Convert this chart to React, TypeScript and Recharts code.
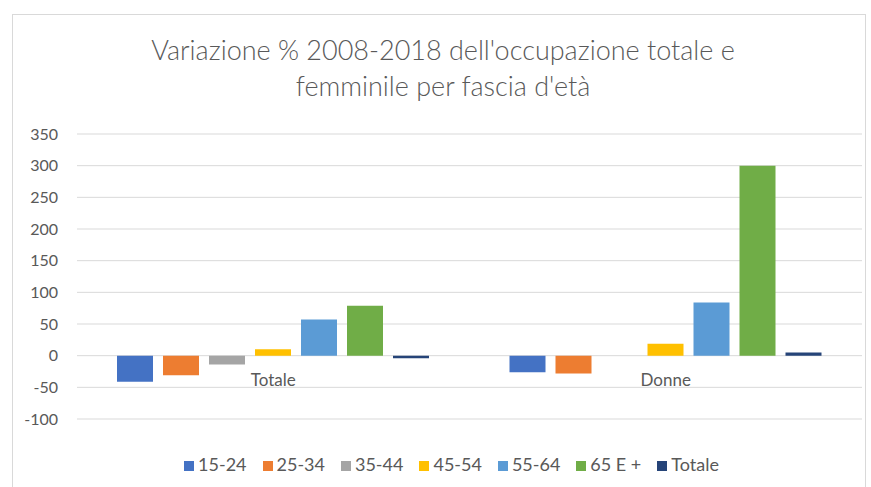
import * as React from "react"
import {
  BarChart,
  Bar,
  XAxis,
  YAxis,
  CartesianGrid,
  Legend,
  ReferenceDot,
} from "recharts"

const categories = ["Totale", "Donne"]
const series = ["15-24", "25-34", "35-44", "45-54", "55-64", "65 E +", "Totale"]
const colors = ["#4472C4", "#ED7D31", "#A5A5A5", "#FFC000", "#5B9BD5", "#70AD47", "#264478"]

// values per series: [Totale, Donne]
const v1524 = [-41, -26]
const v2534 = [-31, -28]
const v3544 = [-14, 0]
const v4554 = [10, 19]
const v5564 = [57, 84]
const v65 = [79, 300]
const vTot = [-4, 5]

const yTicks = [-100, -50, 0, 50, 100, 150, 200, 250, 300, 350]

const seriesValues = [v1524, v2534, v3544, v4554, v5564, v65, vTot]

const data = categories.map((cat, i) => {
  const row: Record<string, any> = { cat }
  series.forEach((s, j) => {
    row["s" + j] = seriesValues[j][i]
  })
  return row
})

const FONT = "Lato, 'Open Sans', sans-serif"
const GREY = "#595959"

export default function App() {
  return (
    <div style={{ position: "absolute", left: 0, top: 0, width: 871, height: 487, background: "#fff", overflow: "hidden", fontFamily: FONT }}>
      <style>{`.recharts-legend-item { margin-right: 16px !important; } .recharts-legend-item:last-child { margin-right: 0 !important; }`}</style>
      <div
        style={{
          position: "absolute",
          left: 12,
          top: 14,
          width: 854,
          height: 490,
          border: "1px solid #d9d9d9",
          boxSizing: "border-box",
        }}
      />
      <div
        style={{
          position: "absolute",
          left: 0,
          width: 886,
          top: 32,
          textAlign: "center",
          fontSize: 27,
          fontWeight: 300,
          lineHeight: "36px",
          color: GREY,
        }}
      >
        Variazione % 2008-2018 dell'occupazione totale e
        <br />
        femminile per fascia d'età
      </div>
      <div style={{ position: "absolute", left: 0, top: 0 }}>
        <BarChart
          width={871}
          height={487}
          data={data}
          margin={{ top: 134, right: 9, bottom: 46, left: 17 }}
          barSize={36}
          barGap={10}
        >
          <CartesianGrid vertical={false} stroke="#d9d9d9" />
          <XAxis dataKey="cat" hide />
          <YAxis
            domain={[-100, 350]}
            ticks={yTicks}
            axisLine={false}
            tickLine={false}
            tickSize={0}
            tickMargin={19}
            width={60}
            interval={0}
            tick={{ fill: GREY, fontSize: 16, fontFamily: FONT }}
          />
          <Legend
            iconType="square"
            iconSize={10}
            wrapperStyle={{ bottom: 12, paddingLeft: 24, boxSizing: "border-box", fontFamily: FONT, fontSize: 18 }}
            formatter={(value) => <span style={{ color: GREY }}>{value}</span>}
          />
          {series.map((s, j) => (
            <Bar
              key={s}
              dataKey={"s" + j}
              name={s}
              fill={colors[j]}
              isAnimationActive={false}
            />
          ))}
          {categories.map((c) => (
            <ReferenceDot
              key={c}
              x={c}
              y={0}
              r={0}
              stroke="none"
              fill="none"
              label={{ value: c, position: "bottom", offset: 18, fill: GREY, fontSize: 17, fontFamily: FONT }}
            />
          ))}
        </BarChart>
      </div>
    </div>
  )
}
